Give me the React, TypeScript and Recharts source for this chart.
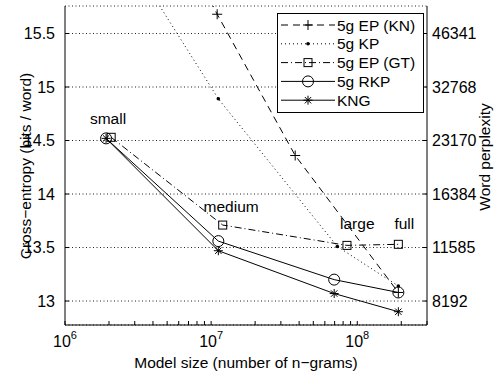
import React from 'react'
import {
  LineChart,
  Line,
  XAxis,
  YAxis,
  CartesianGrid,
  Legend,
  ReferenceDot,
} from 'recharts'

// model size (number of n-grams) and cross-entropy
const epKnSize = [1.91e6, 1.1e7, 3.76e7, 1.91e8]
const epKnEntropy = [17.7, 15.68, 14.36, 13.08]

const kpSize = [1.91e6, 1.12e7, 7.3e7, 1.91e8]
const kpEntropy = [16.55, 14.89, 13.51, 13.14]

const epGtSize = [2.07e6, 1.2e7, 8.5e7, 1.91e8]
const epGtEntropy = [14.53, 13.71, 13.52, 13.53]

const rkpSize = [1.91e6, 1.12e7, 6.95e7, 1.91e8]
const rkpEntropy = [14.52, 13.56, 13.2, 13.08]

const kngSize = [1.91e6, 1.12e7, 6.95e7, 1.91e8]
const kngEntropy = [14.52, 13.47, 13.07, 12.9]

// text annotations (data coordinates of the label baseline)
const stageNames = ['small', 'medium', 'large', 'full']
const stageSize = [1.97e6, 1.37e7, 1e8, 2.1e8]
const stageEntropy = [14.654, 13.832, 13.673, 13.673]

const entropyTicks = [13, 13.5, 14, 14.5, 15, 15.5]
const decadeTicks = [1e6, 1e7, 1e8]
const sizeTicks = [
  1e6, 2e6, 3e6, 4e6, 5e6, 6e6, 7e6, 8e6, 9e6,
  1e7, 2e7, 3e7, 4e7, 5e7, 6e7, 7e7, 8e7, 9e7,
  1e8, 2e8, 3e8,
]

const zip = (xs: number[], ys: number[]) => xs.map((x, i) => ({ x, y: ys[i] }))

type MarkerKind = 'plus' | 'dot' | 'square' | 'circle' | 'star'

const series: { name: string; data: { x: number; y: number }[]; dash?: string; marker: MarkerKind }[] = [
  { name: '5g EP (KN)', data: zip(epKnSize, epKnEntropy), dash: '7 5', marker: 'plus' },
  { name: '5g KP', data: zip(kpSize, kpEntropy), dash: '1 3', marker: 'dot' },
  { name: '5g EP (GT)', data: zip(epGtSize, epGtEntropy), dash: '7 3 1 3', marker: 'square' },
  { name: '5g RKP', data: zip(rkpSize, rkpEntropy), marker: 'circle' },
  { name: 'KNG', data: zip(kngSize, kngEntropy), marker: 'star' },
]

function Marker({ kind, cx, cy }: { kind: MarkerKind; cx: number; cy: number }) {
  const s = { stroke: '#000', strokeWidth: 1, fill: 'none' }
  switch (kind) {
    case 'plus':
      return (
        <g {...s}>
          <line x1={cx - 5} y1={cy} x2={cx + 5} y2={cy} />
          <line x1={cx} y1={cy - 5} x2={cx} y2={cy + 5} />
        </g>
      )
    case 'dot':
      return <circle cx={cx} cy={cy} r={1.8} fill="#000" />
    case 'square':
      return <rect x={cx - 4} y={cy - 4} width={8} height={8} {...s} />
    case 'circle':
      return <circle cx={cx} cy={cy} r={5.5} {...s} />
    default: {
      const d = 4.5
      const e = 3.2
      return (
        <g {...s}>
          <line x1={cx - d} y1={cy} x2={cx + d} y2={cy} />
          <line x1={cx} y1={cy - d} x2={cx} y2={cy + d} />
          <line x1={cx - e} y1={cy - e} x2={cx + e} y2={cy + e} />
          <line x1={cx - e} y1={cy + e} x2={cx + e} y2={cy - e} />
        </g>
      )
    }
  }
}

function LegendBox() {
  return (
    <svg width={147} height={100} style={{ display: 'block' }}>
      <rect x={0.5} y={0.5} width={146} height={99} fill="#fff" stroke="#000" />
      {series.map((s, i) => {
        const y = 12 + i * 18.8
        return (
          <g key={s.name}>
            <line x1={4} y1={y} x2={58} y2={y} stroke="#000" strokeDasharray={s.dash} />
            <Marker kind={s.marker} cx={31} cy={y} />
            <text x={60} y={y + 5.5} fontSize={15.5} fill="#000">
              {s.name}
            </text>
          </g>
        )
      })}
    </svg>
  )
}

function DecadeTick(props: any) {
  const { x, y, payload } = props
  const v = payload.value
  if (!decadeTicks.includes(v)) return null
  const exp = Math.round(Math.log10(v))
  return (
    <text x={x} y={y + 18} textAnchor="middle" fontSize={16} fill="#000">
      <tspan>10</tspan>
      <tspan dy={-8} fontSize={11}>
        {exp}
      </tspan>
    </text>
  )
}

export default function App() {
  return (
    <div
      style={{
        position: 'absolute',
        left: 0,
        top: 0,
        width: 496,
        height: 373,
        background: '#fff',
        fontFamily: '"Liberation Sans", Arial, sans-serif',
      }}
    >
      <LineChart width={496} height={373} margin={{ top: 6, right: 0, bottom: 0, left: 0 }}>
        <CartesianGrid
          yAxisId="left"
          vertical={false}
          stroke="#222"
          strokeDasharray="1 2.5"
        />
        <XAxis
          type="number"
          dataKey="x"
          scale="log"
          domain={[1e6, 3e8]}
          allowDataOverflow
          ticks={sizeTicks}
          interval={0}
          height={48}
          tickSize={-4}
          tickMargin={8}
          axisLine={{ stroke: '#000' }}
          tickLine={{ stroke: '#000' }}
          tick={<DecadeTick />}
          label={{
            content: () => (
              <text x={246} y={368} textAnchor="middle" fontSize={15.5} fill="#000">
                Model size (number of n−grams)
              </text>
            ),
          }}
        />
        <XAxis
          xAxisId="top"
          orientation="top"
          type="number"
          dataKey="x"
          scale="log"
          domain={[1e6, 3e8]}
          allowDataOverflow
          ticks={sizeTicks}
          interval={0}
          height={0}
          tickSize={-4}
          tick={false}
          axisLine={{ stroke: '#000' }}
          tickLine={{ stroke: '#000' }}
        />
        <YAxis
          yAxisId="left"
          type="number"
          domain={[12.776, 15.757]}
          allowDataOverflow
          ticks={entropyTicks}
          interval={0}
          width={65}
          tickSize={-4}
          tickMargin={14}
          axisLine={{ stroke: '#000' }}
          tickLine={{ stroke: '#000' }}
          tick={{ fill: '#000', fontSize: 16 }}
          label={{
            content: () => (
              <text
                transform="translate(31,166) rotate(-90)"
                textAnchor="middle"
                fontSize={15.5}
                fill="#000"
              >
                Cross−entropy (bits / word)
              </text>
            ),
          }}
        />
        <YAxis
          yAxisId="right"
          orientation="right"
          type="number"
          domain={[12.776, 15.757]}
          allowDataOverflow
          ticks={entropyTicks}
          interval={0}
          width={69}
          tickSize={-4}
          tickMargin={9}
          tickFormatter={(v: number) => String(Math.round(Math.pow(2, v)))}
          axisLine={{ stroke: '#000' }}
          tickLine={{ stroke: '#000' }}
          tick={{ fill: '#000', fontSize: 16 }}
          label={{
            content: () => (
              <text
                transform="translate(490,157) rotate(-90)"
                textAnchor="middle"
                fontSize={15.5}
                fill="#000"
              >
                Word perplexity
              </text>
            ),
          }}
        />
        {series.map((s) => (
          <Line
            key={s.name}
            yAxisId="left"
            data={s.data}
            dataKey="y"
            name={s.name}
            type="linear"
            stroke="#000"
            strokeWidth={1}
            strokeDasharray={s.dash}
            isAnimationActive={false}
            activeDot={false}
            dot={(p: any) => (
              <Marker key={`${s.name}-${p.index}`} kind={s.marker} cx={p.cx} cy={p.cy} />
            )}
          />
        ))}
        {stageNames.map((name, i) => (
          <ReferenceDot
            key={name}
            yAxisId="left"
            x={stageSize[i]}
            y={stageEntropy[i]}
            r={0}
            shape={(p: any) => (
              <text x={p.cx} y={p.cy} textAnchor="middle" fontSize={15.5} fill="#000">
                {name}
              </text>
            )}
          />
        ))}
        <Legend
          layout="vertical"
          align="center"
          verticalAlign="middle"
          content={() => <LegendBox />}
          wrapperStyle={{ position: 'absolute', left: 277, top: 13, width: 147, height: 100 }}
        />
      </LineChart>
    </div>
  )
}
